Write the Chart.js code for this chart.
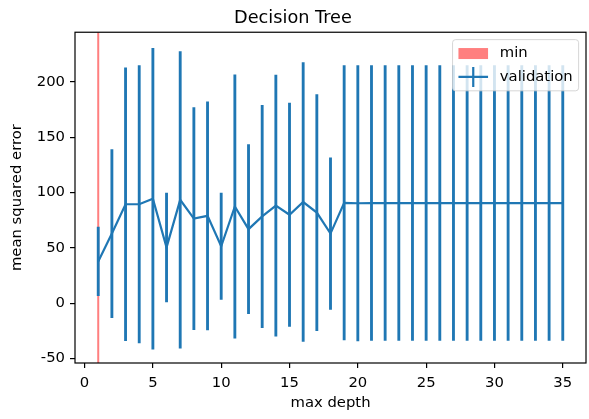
<!DOCTYPE html>
<html>
<head>
<meta charset="utf-8">
<script src="https://cdn.jsdelivr.net/npm/chart.js@4.4.1/dist/chart.umd.min.js"></script>
<style>
  body { margin: 0; background: #fff; }
  #wrap { width: 589px; height: 419px; }
</style>
</head>
<body>
<div id="wrap"><canvas id="chart" width="589" height="419"></canvas></div>
<script>
// --- Datos ---
const depths = [1, 2, 3, 4, 5, 6, 7, 8, 9, 10, 11, 12, 13, 14, 15, 16, 17, 18,
    19, 20, 21, 22, 23, 24, 25, 26, 27, 28, 29, 30, 31, 32, 33, 34, 35];
const mseMean = [37.8, 63, 89.5, 89.5, 94.5, 50.5, 93.5, 76.5, 79, 51.5, 87.5, 67, 78.5, 88.2, 80, 91.5, 82, 63,
    90.8, 90.4, 90.6, 90.6, 90.6, 90.6, 90.6, 90.6, 90.6, 90.6, 90.6, 90.6, 90.6, 90.6, 90.6, 90.6, 90.6];
const mseStd = [31, 76, 123.4, 125.3, 136, 49.2, 134, 100.3, 103, 48, 119, 76.4, 100.5, 118, 101, 126, 106.7, 68.5,
    124, 124.5, 124.3, 124.3, 124.3, 124.3, 124.3, 124.3, 124.3, 124.3, 124.3, 124.3, 124.3, 124.3, 124.3, 124.3, 124.3];
const minDepth = 1;
const xTicks = [0, 5, 10, 15, 20, 25, 30, 35];
const yTicks = [-50, 0, 50, 100, 150, 200];
const xLimits = [-0.7, 36.7];
const yLimits = [-54, 245];
const legendLabels = ['min', 'validation'];

const BLUE = '#1f77b4';
const RED_ALPHA = 'rgba(255, 0, 0, 0.5)';
const FONT = 'DejaVu Sans';

Chart.defaults.font.family = FONT;
Chart.defaults.color = '#000';

// --- Plugins ---
const framePlugin = {
    id: 'frame',
    afterDatasetsDraw(chart) {
        const { ctx, chartArea: a } = chart;
        ctx.save();
        ctx.strokeStyle = '#000';
        ctx.lineWidth = 1.2;
        ctx.strokeRect(a.left, a.top, a.right - a.left, a.bottom - a.top);
        ctx.restore();
    }
};

// leyenda estilo matplotlib (esquina superior derecha)
const legendPlugin = {
    id: 'mplLegend',
    afterDatasetsDraw(chart) {
        const { ctx, chartArea: a } = chart;
        const fs = 14.8;
        const pad = 5.9, handleLen = 29.6, textPad = 11.8, rowH = 16, rowGap = 7.4;
        ctx.save();
        ctx.font = fs + 'px "' + FONT + '"';
        const textW = Math.max(...legendLabels.map(t => ctx.measureText(t).width));
        const w = pad * 2 + handleLen + textPad + textW;
        const h = pad * 2 + rowH * 2 + rowGap;
        const right = a.right - 7.4;
        const left = right - w;
        const top = a.top + 7.4;

        ctx.beginPath();
        ctx.roundRect(left, top, w, h, 3);
        ctx.fillStyle = 'rgba(255,255,255,0.8)';
        ctx.fill();
        ctx.strokeStyle = 'rgba(204,204,204,0.8)';
        ctx.lineWidth = 1;
        ctx.stroke();

        const hx = left + pad;
        const row1 = top + pad + rowH / 2;
        const row2 = row1 + rowH + rowGap;

        // parche "min"
        ctx.fillStyle = RED_ALPHA;
        ctx.fillRect(hx, row1 - 5.5, handleLen, 11);

        // símbolo de barra de error "validation"
        ctx.strokeStyle = BLUE;
        ctx.lineWidth = 2.2;
        ctx.beginPath();
        ctx.moveTo(hx, row2);
        ctx.lineTo(hx + handleLen, row2);
        ctx.moveTo(hx + handleLen / 2, row2 - 10);
        ctx.lineTo(hx + handleLen / 2, row2 + 10);
        ctx.stroke();

        ctx.fillStyle = '#000';
        ctx.textBaseline = 'middle';
        ctx.textAlign = 'left';
        const tx = hx + handleLen + textPad;
        ctx.fillText(legendLabels[0], tx, row1);
        ctx.fillText(legendLabels[1], tx, row2);
        ctx.restore();
    }
};

// --- Gráfico ---
const ctx = document.getElementById('chart').getContext('2d');

const errorBars = depths.map((d, i) => ({ x: d, y: [mseMean[i] - mseStd[i], mseMean[i] + mseStd[i]] }));
const meanLine = depths.map((d, i) => ({ x: d, y: mseMean[i] }));
const minLine = [{ x: minDepth, y: yLimits[0] }, { x: minDepth, y: yLimits[1] }];

new Chart(ctx, {
    type: 'line',
    data: {
        datasets: [
            {
                label: 'min',
                data: minLine,
                borderColor: RED_ALPHA,
                borderWidth: 2,
                pointRadius: 0,
                order: 3
            },
            {
                type: 'bar',
                label: 'validation error',
                data: errorBars,
                backgroundColor: BLUE,
                borderWidth: 0,
                barThickness: 2.2,
                order: 2
            },
            {
                label: 'validation',
                data: meanLine,
                borderColor: BLUE,
                borderWidth: 2.2,
                pointRadius: 0,
                tension: 0,
                fill: false,
                order: 1
            }
        ]
    },
    options: {
        responsive: false,
        animation: false,
        layout: { padding: { left: 0, right: 3, top: 0, bottom: 0 } },
        plugins: {
            legend: { display: false },
            tooltip: { enabled: false },
            title: {
                display: true,
                text: 'Decision Tree',
                color: '#000',
                font: { size: 17.7, weight: 'normal' },
                padding: { top: 7.5, bottom: 3.5 }
            }
        },
        scales: {
            x: {
                type: 'linear',
                min: xLimits[0],
                max: xLimits[1],
                offset: false,
                afterBuildTicks: s => { s.ticks = xTicks.map(v => ({ value: v })); },
                afterFit: s => { s.height = 56; s.paddingRight = 0; s.paddingLeft = 0; },
                ticks: { padding: 6, font: { size: 14.8 }, color: '#000' },
                grid: { offset: false, drawOnChartArea: false, drawTicks: true, tickLength: 5, color: '#000', lineWidth: 1.2 },
                border: { display: false },
                title: { display: true, text: 'max depth', font: { size: 14.8 }, color: '#000', padding: { top: 0, bottom: 7 } }
            },
            y: {
                min: yLimits[0],
                max: yLimits[1],
                afterBuildTicks: s => { s.ticks = yTicks.map(v => ({ value: v })); },
                afterFit: s => { s.width = 75; s.paddingTop = 0; s.paddingBottom = 0; },
                ticks: { padding: 5, font: { size: 14.8 }, color: '#000' },
                grid: { offset: false, drawOnChartArea: false, drawTicks: true, tickLength: 5, color: '#000', lineWidth: 1.2 },
                border: { display: false },
                title: { display: true, text: 'mean squared error', font: { size: 14.8 }, color: '#000', padding: { top: 8, bottom: 0 } }
            }
        }
    },
    plugins: [framePlugin, legendPlugin]
});
</script>
</body>
</html>
